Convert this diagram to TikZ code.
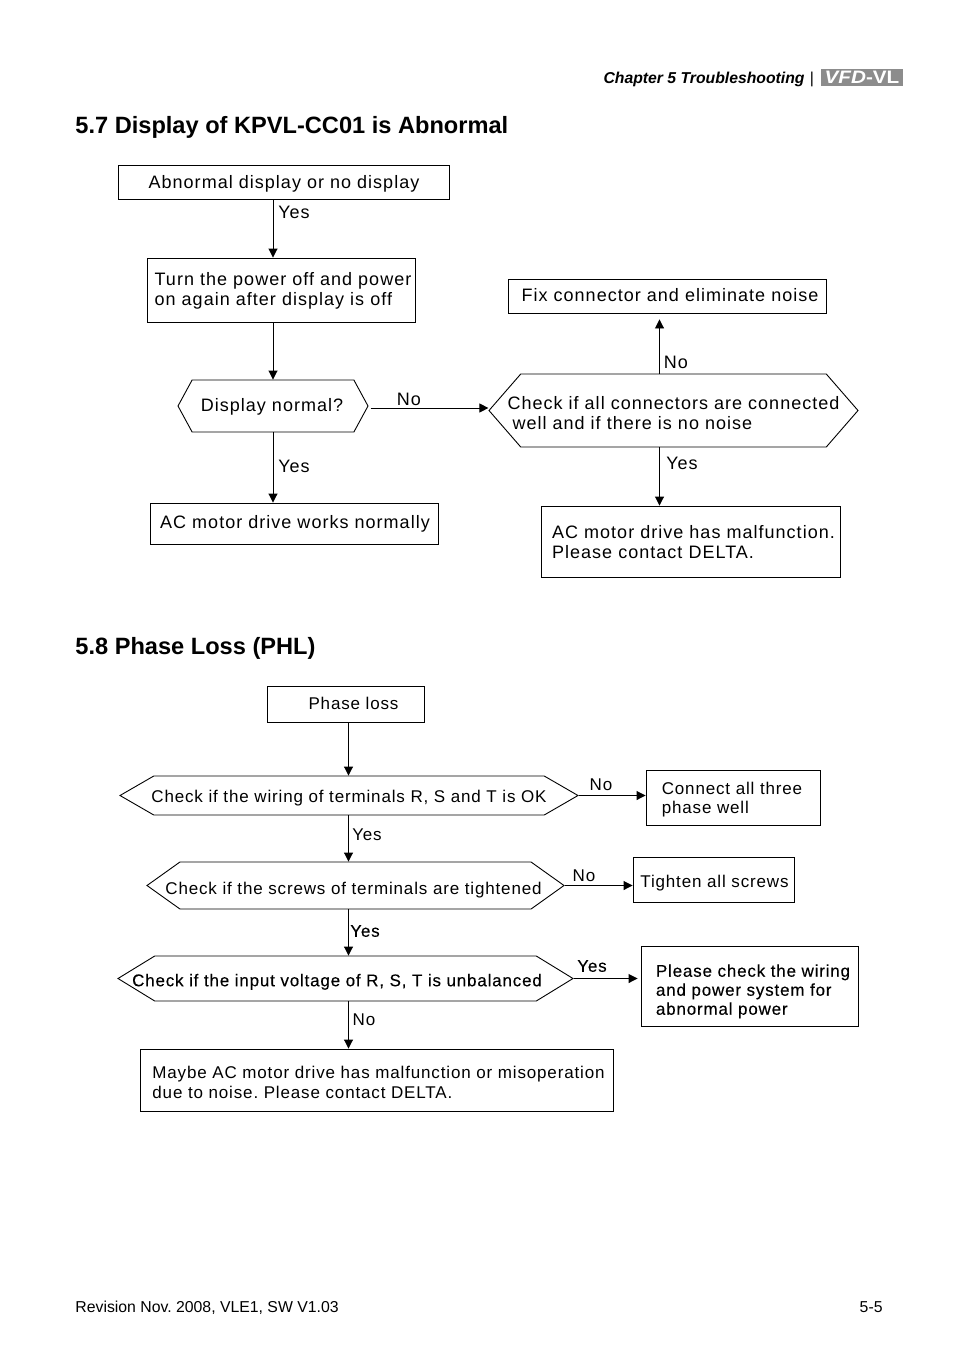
\documentclass[tikz,border=0pt]{standalone}
\usepackage{fontspec}
\setmainfont{Liberation Sans}
\newfontfamily\boxfont[LetterSpace=5.7]{Liberation Sans}
\newfontfamily\smallfont[LetterSpace=5]{Liberation Sans}
\newfontfamily\heavyfont[LetterSpace=4.8,FakeBold=0.25]{Liberation Sans}
\usetikzlibrary{arrows.meta,shapes.symbols}
% #1 sideways shift, #2 downward shift, #3 lines of text
\newcommand{\lines}[3]{\makebox[0pt]{\hspace*{\dimexpr#1pt*2\relax}\raisebox{\dimexpr-#2pt-.25em\relax}[0pt][0pt]{\begin{tabular}{@{}l@{}}#3\end{tabular}}}}
\tikzset{
	boxnode/.style 2 args={draw,rectangle,inner sep=0pt,minimum width=#1,minimum height=#2,font=\boxfont\fontsize{18}{20}\selectfont},
	hexnode/.style n args={3}{draw,signal,signal to=west and east,signal pointer angle=#3,inner sep=0pt,minimum width=#1,minimum height=#2,font=\boxfont\fontsize{18}{20}\selectfont},
	smalltext/.style={font=\smallfont\fontsize{17}{19}\selectfont},
	heavytext/.style={font=\heavyfont\fontsize{17}{19}\selectfont},
	tag/.style={inner sep=0pt,font=\boxfont\fontsize{18}{20}\selectfont},
	title/.style={anchor=west,inner sep=0pt,font=\bfseries\fontsize{23.6}{26}\selectfont},
	foot/.style={inner sep=0pt,font=\fontsize{15.8}{18}\selectfont},
	flow/.style={-{Stealth[length=9pt,width=9pt,inset=0pt]},line width=0.9pt},
}
\begin{document}
\frenchspacing
\begin{tikzpicture}[x=1pt,y=-1pt,line width=0.9pt]
\useasboundingbox (0,0) rectangle (954,1357);
% page header
\node[anchor=east,inner sep=0pt,font=\bfseries\itshape\fontsize{15.75}{18}\selectfont] (chapter) at (805,79) {Chapter 5 Troubleshooting};
\node[foot] (bar) at (812,79) {|};
\node[fill=black!45,text=white,inner sep=0pt,minimum width=82,minimum height=17,font=\bfseries\fontsize{18}{17}\selectfont] (logo) at (862,77.5) {\scalebox{1.15}[1]{\itshape VFD\upshape-VL}};
\node[title] (head1) at (75,127) {5.7 Display of KPVL-CC01 is Abnormal};
\node[title] (head2) at (75,648) {5.8 Phase Loss (PHL)};
% first chart
\node[boxnode={331}{34}] (abnormal) at (283.5,182) {\lines{0.5}{2}{Abnormal display or no display}};
\node[boxnode={268}{64}] (turn) at (281,290) {\lines{2}{1}{Turn the power off and power\\on again after display is off}};
\node[hexnode={190}{52}{123}] (normal) at (273,406) {\lines{-1}{1}{Display normal?}};
\node[boxnode={288}{41}] (works) at (294,523.5) {\lines{1}{1}{AC motor drive works normally}};
\node[boxnode={318}{34}] (fix) at (667,296) {\lines{3}{1}{Fix connector and eliminate noise}};
\node[hexnode={369}{73}{98}] (check) at (673.5,410.5) {\lines{0}{5}{Check if all connectors are connected\\\hspace*{5pt}well and if there is no noise}};
\node[boxnode={299}{71}] (contact) at (690.5,541.5) {\lines{3}{3}{AC motor drive has malfunction.\\Please contact DELTA.}};
\coordinate (xturn) at (273,0);
\coordinate (xcheck) at (659.5,0);
\coordinate (ynormal) at (0,408);
\draw[flow] (abnormal.south -| xturn) -- (turn.north -| xturn);
\draw[flow] (turn.south -| xturn) -- (normal.north -| xturn);
\draw[flow] (normal.south -| xturn) -- (works.north -| xturn);
\draw[flow,shorten <=2pt] (normal.east |- ynormal) -- (check.west |- ynormal);
\draw[flow,shorten >=6pt] (check.north -| xcheck) -- (fix.south -| xcheck);
\draw[flow] (check.south -| xcheck) -- (contact.north -| xcheck);
\node[tag] (yes1) at (294,212) {Yes};
\node[tag] (yes2) at (294,466) {Yes};
\node[tag] (no1) at (409,399) {No};
\node[tag] (no2) at (676,362) {No};
\node[tag] (yes3) at (682,463) {Yes};
% second chart
\node[boxnode={157}{36},smalltext] (loss) at (345.5,704) {\lines{8}{2}{Phase loss}};
\node[hexnode={458}{39}{60},smalltext] (wiring) at (349,795.5) {\lines{0}{3}{Check if the wiring of terminals R, S and T is OK}};
\node[hexnode={417}{47}{71},smalltext] (screws) at (355.5,885.5) {\lines{-2}{5}{Check if the screws of terminals are tightened}};
\node[hexnode={455}{45}{63},heavytext] (input) at (345.5,978.5) {\lines{-8.5}{4}{Check if the input voltage of R, S, T is unbalanced}};
\node[boxnode={473}{62},smalltext] (maybe) at (376.5,1080) {\lines{2}{5}{Maybe AC motor drive has malfunction or misoperation\\[1pt]due to noise. Please contact DELTA.}};
\node[boxnode={174}{55},smalltext] (connect) at (733,797.5) {\lines{-1}{3}{Connect all three\\phase well}};
\node[boxnode={161}{45},smalltext] (tighten) at (713.5,879.5) {\lines{1}{4}{Tighten all screws}};
\node[boxnode={217}{80},heavytext] (please) at (749.5,986) {\lines{3.5}{6}{Please check the wiring\\and power system for\\abnormal power}};
\coordinate (xloss) at (348.5,0);
\draw[flow] (loss.south -| xloss) -- (wiring.north -| xloss);
\draw[flow] (wiring.south -| xloss) -- (screws.north -| xloss);
\draw[flow] (screws.south -| xloss) -- (input.north -| xloss);
\draw[flow] (input.south -| xloss) -- (maybe.north -| xloss);
\draw[flow] (wiring.east) -- (connect.west |- wiring.east);
\draw[flow] (screws.east) -- (tighten.west |- screws.east);
\draw[flow] (input.east) -- ([xshift=-3pt]please.west |- input.east);
\node[tag,smalltext] (yes4) at (367,835) {Yes};
\node[tag,heavytext] (yes5) at (365,931) {Yes};
\node[tag,smalltext] (no3) at (364,1020) {No};
\node[tag,smalltext] (no4) at (601,785) {No};
\node[tag,smalltext] (no5) at (584,876) {No};
\node[tag,heavytext] (yes6) at (592,966) {Yes};
% page footer
\node[foot,anchor=west] (rev) at (75,1308) {Revision Nov. 2008, VLE1, SW V1.03};
\node[foot,anchor=east] (page) at (883,1307) {5-5};
\end{tikzpicture}
\end{document}
